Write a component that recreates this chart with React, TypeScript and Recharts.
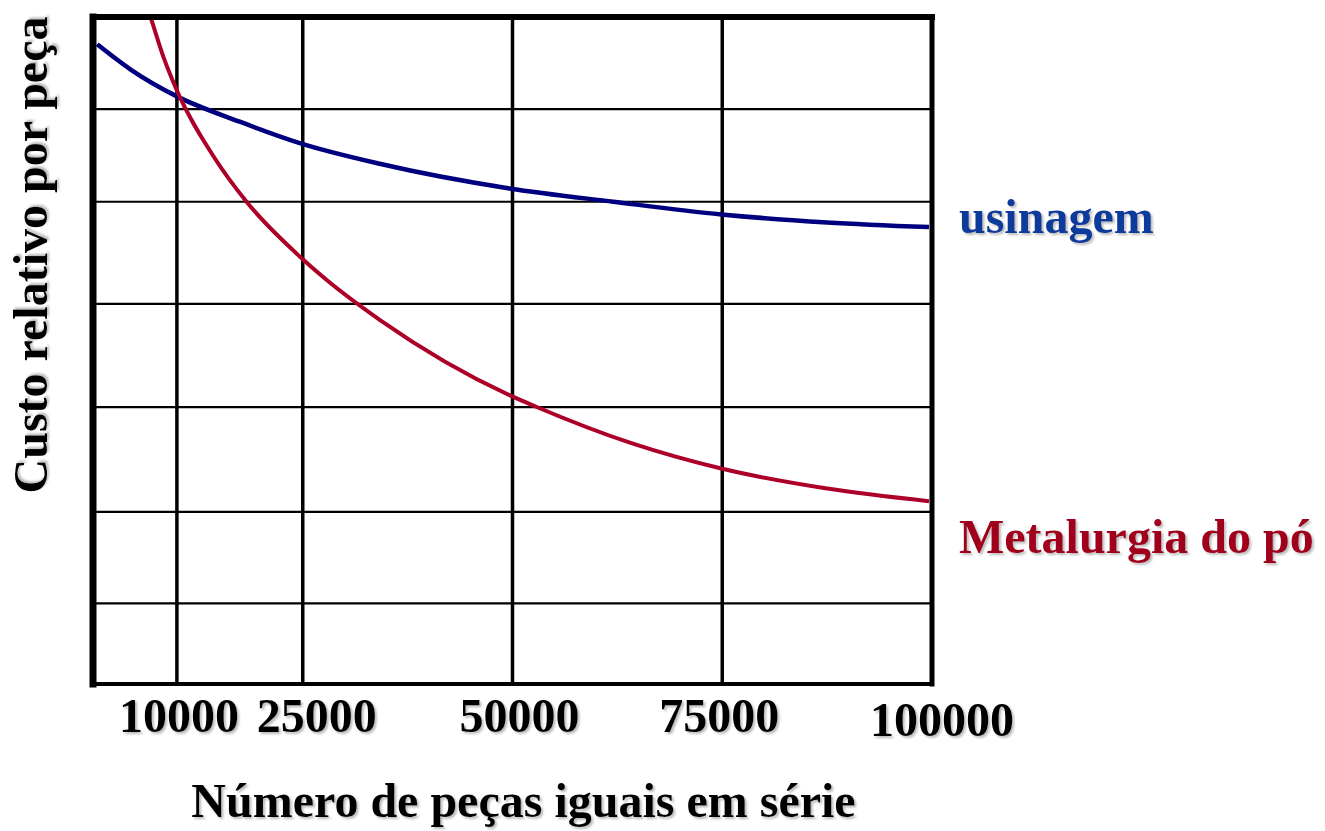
import { CartesianGrid, Line, LineChart, ReferenceLine, XAxis, YAxis } from "recharts"

// lot size (pieces) -> relative cost per piece (arbitrary units, no y scale shown)
const usinagemX = [500, 4400, 10000, 17500, 24640, 34170, 49640, 62020, 74880, 87500, 99640]
const usinagemY = [95.9, 92.2, 88.1, 84.3, 81.1, 78.0, 74.3, 72.3, 70.4, 69.2, 68.5]

const metalurgiaX = [6200, 6990, 8370, 9960, 14320, 18300, 24640, 27820, 34170, 49640, 52740, 64170, 74880, 87500, 99640]
const metalurgiaY = [102.6, 99.5, 94.1, 89.1, 79.2, 72.3, 64.1, 60.6, 54.6, 43.3, 41.6, 36.1, 32.3, 29.3, 27.4]

const xTicks = [10000, 25000, 50000, 75000, 100000]
const xGrid = [10000, 25000, 50000, 75000]
const yGrid = [12.1, 25.8, 41.5, 57.0, 72.3, 86.2]

const usinagem = usinagemX.map((x, i) => ({ x, y: usinagemY[i] }))
const metalurgia = metalurgiaX.map((x, i) => ({ x, y: metalurgiaY[i] }))

const FONT = '"Liberation Serif", "Times New Roman", serif'
// small nudges so the tick labels sit like in the original scan
const tickNudge: Record<number, [number, number]> = {
  10000: [2, 0],
  25000: [14, 0],
  50000: [7, 0],
  75000: [-3, 0],
  100000: [10, 4],
}

function XTick(props: any) {
  const { x, y, payload } = props
  const [dx, dy] = tickNudge[payload.value] || [0, 0]
  return (
    <text x={x + dx} y={y + 48 + dy} textAnchor="middle" fontFamily={FONT} fontWeight="bold" fontSize={48} fill="#000" filter="url(#shadow)">
      {payload.value}
    </text>
  )
}

function XTitle(props: any) {
  const vb = props.viewBox || {}
  return (
    <text x={vb.x + vb.width / 2 + 11} y={vb.y + 133} textAnchor="middle" fontFamily={FONT} fontWeight="bold" fontSize={48} fill="#000" filter="url(#shadow)">
      Número de peças iguais em série
    </text>
  )
}

const endLabel = (text: string, color: string, last: number, dy: number) => (props: any) => {
  if (props.index !== last) return null
  const x = props.x ?? props.viewBox?.x
  const y = props.y ?? props.viewBox?.y
  return (
    <text x={x + 30} y={y + dy} fontFamily={FONT} fontWeight="bold" fontSize={48} fill={color} filter="url(#shadow)">
      {text}
    </text>
  )
}

export default function App() {
  return (
    <div style={{ position: "absolute", left: 0, top: 0, width: 1325, height: 831, background: "#fff" }}>
      <LineChart width={1325} height={831} margin={{ top: 17, right: 393, bottom: 27, left: 93 }}>
        <defs>
          <filter id="shadow" x="-10%" y="-20%" width="120%" height="150%">
            <feDropShadow dx="2" dy="2" stdDeviation="1" floodColor="#777" floodOpacity="0.5" />
          </filter>
        </defs>
        <XAxis
          type="number"
          dataKey="x"
          domain={[0, 100000]}
          ticks={xTicks}
          interval={0}
          axisLine={false}
          tickLine={false}
          tickSize={0}
          tickMargin={0}
          height={120}
          tick={<XTick />}
          label={<XTitle />}
        />
        <YAxis type="number" domain={[0, 100]} allowDataOverflow width={0} tick={false} axisLine={false} tickLine={false} />
        <CartesianGrid horizontal={false} verticalValues={xGrid} stroke="#000" strokeWidth={3.5} />
        {yGrid.map((v) => (
          <ReferenceLine key={v} y={v} stroke="#000" strokeWidth={2.2} />
        ))}
        <Line
          data={usinagem}
          dataKey="y"
          type="monotone"
          stroke="#00007f"
          strokeWidth={4.5}
          dot={false}
          isAnimationActive={false}
          label={endLabel("usinagem", "#0a3a9c", usinagem.length - 1, 6)}
        />
        <Line
          data={metalurgia}
          dataKey="y"
          type="monotone"
          stroke="#ad0028"
          strokeWidth={4}
          dot={false}
          isAnimationActive={false}
          label={endLabel("Metalurgia do pó", "#a0001f", metalurgia.length - 1, 52)}
        />
        <ReferenceLine x={0} stroke="#000" strokeWidth={7} strokeLinecap="square" />
        <ReferenceLine x={100000} stroke="#000" strokeWidth={5} strokeLinecap="square" />
        <ReferenceLine y={100} stroke="#000" strokeWidth={6} strokeLinecap="square" />
        <ReferenceLine y={0} stroke="#000" strokeWidth={4} strokeLinecap="square" />
        <text
          x={47}
          y={255}
          transform="rotate(-90 47 255)"
          textAnchor="middle"
          fontFamily={FONT}
          fontWeight="bold"
          fontSize={48}
          fill="#000"
          filter="url(#shadow)"
        >
          Custo relativo por peça
        </text>
      </LineChart>
    </div>
  )
}
